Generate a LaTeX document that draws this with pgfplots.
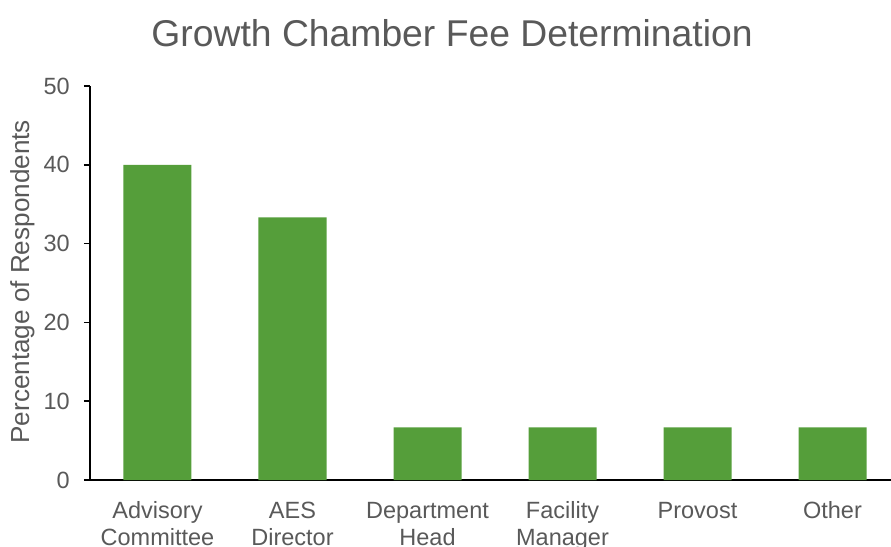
\documentclass[border=0pt]{standalone}
\usepackage{pgfplots}
\pgfplotsset{compat=1.18}
\usepackage{fontspec}
\setmainfont{Liberation Sans}
\definecolor{bargreen}{RGB}{85,158,58}
\definecolor{txtgray}{RGB}{89,89,89}
\begin{document}
\begin{tikzpicture}
\begin{axis}[
  scale only axis,
  width=810pt, height=394pt,
  xmin=-0.5, xmax=5.5, ymin=0, ymax=50,
  axis x line*=bottom, axis y line*=left,
  axis line style={-, black, line width=1.5pt},
  ytick={0,10,20,30,40,50},
  xtick={0,1,2,3,4,5},
  xticklabels={{\strut Advisory\\\strut Committee},{\strut AES\\\strut Director},{\strut Department\\\strut Head},{\strut Facility\\\strut Manager},{\strut Provost},{\strut Other}},
  x tick style={draw=none},
  extra x ticks={-0.5,0.5,1.5,2.5,3.5,4.5,5.5},
  extra x tick labels={},
  extra x tick style={tick style={draw=black, line width=1.5pt}, major tick length=8pt, tick align=outside},
  y tick style={draw=black, line width=1.5pt},
  major tick length=6pt,
  tick align=outside,
  tick pos=left,
  /pgf/number format/assume math mode=true,
  ticklabel style={font=\fontsize{23.5}{27}\selectfont, text=txtgray},
  yticklabel style={anchor=east, inner sep=0pt, xshift=-14pt},
  xticklabel style={align=center, anchor=north, inner sep=0pt, yshift=-13pt},
  title={Growth Chamber Fee Determination},
  title style={at={(axis description cs:0.447,1)}, anchor=base, yshift=33pt, font=\fontsize{37.3}{44}\selectfont, text=txtgray},
  ylabel={Percentage of Respondents},
  ylabel style={at={(axis description cs:-0.0753,0.503)}, anchor=base, rotate=0, font=\fontsize{26.1}{30}\selectfont, text=txtgray},
]
\addplot[ybar, bar width=68pt, fill=bargreen, draw=none] coordinates {(0,40) (1,33.33) (2,6.67) (3,6.67) (4,6.67) (5,6.67)};
\end{axis}
\pgfresetboundingbox
\path[use as bounding box] (-90pt,-66pt) rectangle (801pt,480pt);
\end{tikzpicture}
\end{document}
